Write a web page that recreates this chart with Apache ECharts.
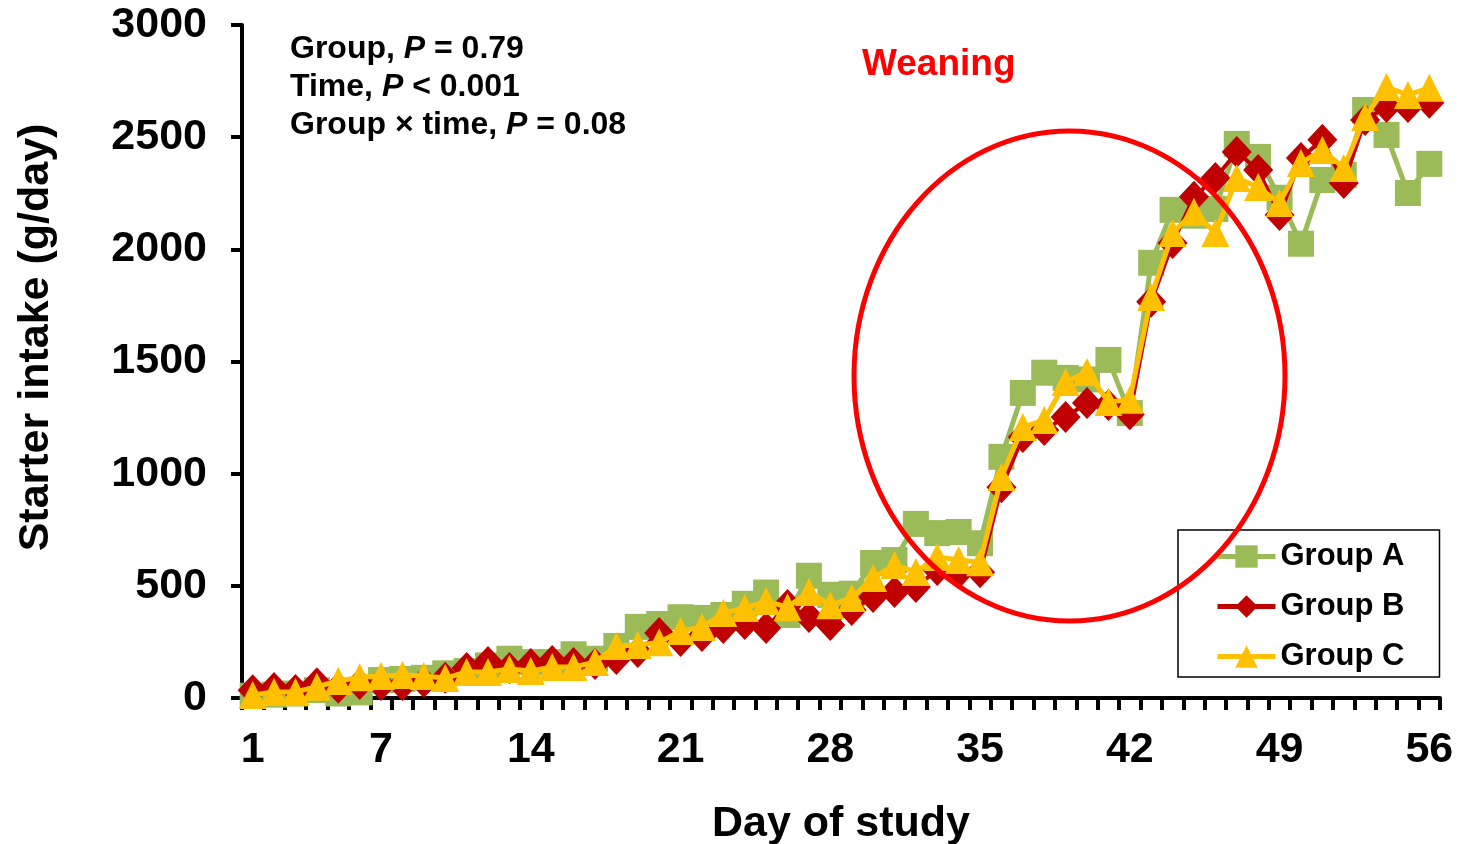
<!DOCTYPE html>
<html>
<head>
<meta charset="utf-8">
<script src="https://cdn.jsdelivr.net/npm/echarts@6/dist/echarts.min.js"></script>
<style>
  html, body { margin: 0; padding: 0; background: #ffffff; }
  #chart { width: 1459px; height: 844px; }
</style>
</head>
<body>
<div id="chart"></div>
<script>
// Day of study (categories)
const days = [1, 2, 3, 4, 5, 6, 7, 8, 9, 10, 11, 12, 13, 14, 15, 16, 17, 18, 19, 20,
  21, 22, 23, 24, 25, 26, 27, 28, 29, 30, 31, 32, 33, 34, 35, 36, 37, 38, 39, 40,
  41, 42, 43, 44, 45, 46, 47, 48, 49, 50, 51, 52, 53, 54, 55, 56];

// Days that carry a tick label
const labelDays = [1, 7, 14, 21, 28, 35, 42, 49, 56];

// Starter intake, g/day
const groupA = [10, 15, 20, 35, 20, 25, 80, 85, 90, 110, 120, 145, 175, 160, 160, 195, 175, 232, 317, 330,
  360, 357, 370, 420, 470, 370, 545, 460, 465, 602, 615, 776, 735, 740, 690, 1075, 1360, 1450, 1427, 1420,
  1507, 1270, 1940, 2176, 2150, 2180, 2470, 2412, 2230, 2025, 2309, 2332, 2621, 2510, 2251, 2381];

const groupB = [35, 45, 36, 66, 46, 62, 58, 58, 71, 90, 134, 160, 134, 152, 165, 156, 152, 174, 205, 290,
  254, 276, 312, 330, 312, 415, 361, 325, 392, 450, 473, 495, 571, 557, 560, 940, 1164, 1195, 1253, 1315,
  1306, 1265, 1766, 2028, 2234, 2318, 2434, 2354, 2153, 2407, 2488, 2296, 2577, 2635, 2635, 2653];

const groupC = [13, 27, 27, 50, 76, 92, 98, 102, 98, 89, 116, 116, 129, 120, 138, 138, 160, 232, 236, 248,
  299, 316, 379, 401, 432, 405, 473, 414, 446, 535, 593, 562, 629, 615, 605, 985, 1208, 1239, 1409, 1453,
  1320, 1329, 1788, 2073, 2167, 2073, 2318, 2278, 2207, 2385, 2443, 2363, 2590, 2724, 2688, 2720];

const seriesNames = ['Group A', 'Group B', 'Group C'];

const FONT = '"Liberation Sans", Arial, Helvetica, sans-serif';
const GREEN = '#9BBB59';
const RED = '#C00000';
const YELLOW = '#FFC000';

const chart = echarts.init(document.getElementById('chart'), null, { renderer: 'canvas' });

const boldText = { fontFamily: FONT, fontWeight: 'bold', color: '#000' };

chart.setOption({
  animation: false,
  backgroundColor: '#ffffff',
  grid: { left: 242, right: 19, top: 25, bottom: 146, containLabel: false, outerBoundsMode: 'none' },
  xAxis: {
    type: 'category',
    data: days.map(String),
    boundaryGap: true,
    axisLine: { lineStyle: { color: '#000', width: 4 } },
    axisTick: { show: true, interval: 0, length: 12, lineStyle: { color: '#000', width: 4 } },
    axisLabel: Object.assign({
      interval: (idx, val) => labelDays.includes(Number(val)),
      margin: 31,
      fontSize: 43
    }, boldText),
    splitLine: { show: false },
    name: 'Day of study',
    nameLocation: 'middle',
    nameGap: 105,
    nameTextStyle: Object.assign({ fontSize: 43 }, boldText)
  },
  yAxis: {
    type: 'value',
    min: 0,
    max: 3000,
    interval: 500,
    axisLine: { show: true, lineStyle: { color: '#000', width: 4 } },
    axisTick: { show: true, length: 11, lineStyle: { color: '#000', width: 4 } },
    axisLabel: Object.assign({ margin: 35, fontSize: 43, formatter: (v) => String(v) }, boldText),
    splitLine: { show: false },
    name: 'Starter intake (g/day)',
    nameLocation: 'middle',
    nameGap: 184,
    nameRotate: 90,
    nameTextStyle: Object.assign({ fontSize: 43, padding: [0, 0, 0, 48] }, boldText)
  },
  legend: {
    data: seriesNames,
    orient: 'vertical',
    left: 1178,
    top: 530,
    padding: [11, 35, 5, 37],
    itemGap: 19,
    itemWidth: 58,
    itemHeight: 28,
    borderColor: '#000',
    borderWidth: 1.5,
    lineStyle: { width: 5 },
    textStyle: Object.assign({ fontSize: 31 }, boldText)
  },
  series: [
    {
      name: 'Group A',
      type: 'line',
      data: groupA,
      symbol: 'rect',
      symbolSize: 26,
      showAllSymbol: true,
      lineStyle: { color: GREEN, width: 5 },
      itemStyle: { color: GREEN },
      emphasis: { disabled: true },
      z: 2
    },
    {
      name: 'Group B',
      type: 'line',
      data: groupB,
      symbol: 'diamond',
      symbolSize: [30, 32],
      showAllSymbol: true,
      lineStyle: { color: RED, width: 4 },
      itemStyle: { color: RED },
      emphasis: { disabled: true },
      z: 3
    },
    {
      name: 'Group C',
      type: 'line',
      data: groupC,
      symbol: 'triangle',
      symbolSize: 28,
      showAllSymbol: true,
      lineStyle: { color: YELLOW, width: 5 },
      itemStyle: { color: YELLOW },
      emphasis: { disabled: true },
      z: 4
    }
  ],
  graphic: [
    {
      type: 'text',
      left: 290,
      top: 33,
      z: 50,
      style: {
        text: '{b|Group, }{i|P}{b| = 0.79}\n{b|Time, }{i|P}{b| < 0.001}\n{b|Group \u00d7 time, }{i|P}{b| = 0.08}',
        rich: {
          b: { fontFamily: FONT, fontWeight: 'bold', fontSize: 32, lineHeight: 38, fill: '#000' },
          i: { fontFamily: FONT, fontWeight: 'bold', fontStyle: 'italic', fontSize: 32, lineHeight: 38, fill: '#000' }
        }
      }
    },
    {
      type: 'text',
      left: 862,
      top: 46,
      z: 50,
      style: {
        text: 'Weaning',
        fontFamily: FONT,
        fontWeight: 'bold',
        fontSize: 37,
        fill: '#FF0000'
      }
    },
    {
      type: 'ellipse',
      z: 60,
      shape: { cx: 1069.5, cy: 376, rx: 215.5, ry: 245 },
      style: { fill: 'none', stroke: '#FF0000', lineWidth: 5 }
    }
  ]
});
</script>
</body>
</html>
